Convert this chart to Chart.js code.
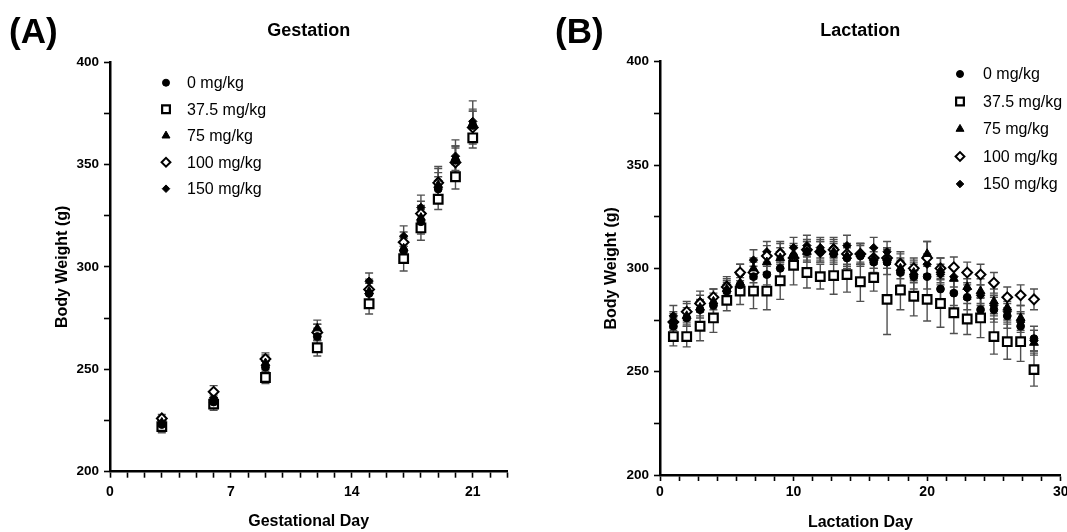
<!DOCTYPE html>
<html>
<head>
  <meta charset="UTF-8">
  <title>Body weight</title>
  <script src="https://cdn.jsdelivr.net/npm/chart.js"></script>
  <style>
    body { margin: 0; background: #fff; overflow: hidden; }
    #wrap { position: relative; width: 1067px; height: 532px; overflow: hidden; font-family: "Liberation Sans", Arial, sans-serif; }
    .panel { position: absolute; top: 0; }
    .tag { position: absolute; top: 13px; font-weight: bold; font-size: 35px; line-height: 1; color: #000; }
  </style>
</head>
<body>
  <div id="wrap">
    <canvas id="chartA" class="panel" width="533" height="532" style="left:0"></canvas>
    <canvas id="chartB" class="panel" width="545" height="532" style="left:533px"></canvas>
    <div class="tag" style="left:9px">(A)</div>
    <div class="tag" style="left:555px">(B)</div>
  </div>
  <script>
    const groupLabels = ['0 mg/kg', '37.5 mg/kg', '75 mg/kg', '100 mg/kg', '150 mg/kg'];

    // gestation (A)
    const gestDays = [3, 6, 9, 12, 15, 17, 18, 19, 20, 21];
    const gest0 = [223, 234, 251, 266, 287, 308, 322, 338, 352, 369];
    const gest37 = [222, 233, 246, 260.5, 282, 304, 319, 333, 344, 363];
    const gest75 = [224, 235, 253, 270, 288, 309, 324, 340, 353, 370];
    const gest100 = [226, 239, 255, 268, 289, 312, 326, 341, 351, 368];
    const gest150 = [225, 236, 254, 268, 293, 315, 329, 342, 354, 371];
    const gestSd0 = [3, 3, 4, 4, 5, 6, 6, 6, 7, 7];
    const gestSd37 = [3, 3, 3, 4, 5, 6, 6, 5, 6, 5];
    const gestSd75 = [3, 3, 3, 4, 4, 5, 6, 6, 6, 7];
    const gestSd100 = [2, 3, 3, 4, 5, 5, 6, 7, 7, 8];
    const gestSd150 = [2, 3, 3, 4, 4, 5, 6, 7, 8, 10];
    const gestTicksX = [0, 7, 14, 21];

    // lactation (B)
    const lactDays = [1, 2, 3, 4, 5, 6, 7, 8, 9, 10, 11, 12, 13, 14, 15, 16, 17, 18, 19, 20, 21, 22, 23, 24, 25, 26, 27, 28];
    const lact0 = [272, 276, 280, 282, 289, 292, 296, 297, 300, 306, 308, 308, 307, 305, 306, 303, 303, 298, 296, 296, 290, 288, 286, 280, 280, 277, 272, 266];
    const lact37 = [267, 267, 272, 276, 284.5, 289, 289, 289, 294, 301.5, 298, 296, 296.5, 297, 293.5, 295.5, 285, 289.5, 286.5, 285, 283, 278.5, 275.5, 276, 267, 264.5, 264.5, 251];
    const lact75 = [275, 277, 281, 284, 290, 293, 300, 303, 305, 307, 308, 309, 308, 306, 307, 305, 305, 300, 298, 307, 299, 295, 291, 289, 284, 281, 276, 264];
    const lact100 = [274, 279, 283, 286, 291, 298, 298, 306, 307, 305, 309, 308, 309, 307, 307, 305, 305, 302, 300, 305, 300, 300.5, 298, 297, 293, 286, 287, 285];
    const lact150 = [277, 279, 284, 286, 292, 297, 304, 308, 308, 310, 311, 310, 310, 311, 307, 310, 308, 303, 299, 302, 297, 296, 290, 287, 282, 279, 274, 265];
    const lactSd0 = [4, 4, 4, 4, 4, 5, 5, 5, 5, 5, 5, 5, 5, 5, 5, 5, 6, 6, 6, 6, 6, 6, 6, 6, 6, 6, 6, 6];
    const lactSd37 = [4.5, 5, 7, 7, 5, 6.5, 8.5, 9, 9, 9.5, 7.5, 6, 9, 8.5, 9.5, 6.5, 17, 9.5, 9.5, 10.5, 11.5, 10, 7.5, 9.5, 8.5, 8.5, 9.5, 8];
    const lactSd75 = [4, 4, 4, 4, 4, 5, 5, 5, 5, 5, 5, 5, 5, 5, 5, 5, 5, 5, 5, 6, 6, 6, 6, 6, 6, 6, 6, 6];
    const lactSd100 = [4, 4, 4, 4, 4, 4, 5, 5, 5, 5, 5, 5, 5, 5, 5, 5, 5, 5, 5, 8, 5, 5, 5, 5, 5, 5, 5, 5];
    const lactSd150 = [5, 5, 5, 4, 4, 5, 5, 5, 5, 5, 5, 5, 5, 5, 5, 5, 5, 5, 5, 5, 5, 5, 5, 5, 5, 5, 5, 5];
    const lactTicksX = [0, 10, 20, 30];

    const yTicks = [200, 250, 300, 350, 400];

    const FONT = '"Liberation Sans", Arial, sans-serif';
    Chart.defaults.font.family = FONT;
    Chart.defaults.color = '#000';

    const markerStyles = [
      { pointStyle: 'circle', pointRadius: 3.9, backgroundColor: '#000', borderColor: '#000', pointBorderWidth: 1 },
      { pointStyle: 'rect', pointRadius: 6.1, backgroundColor: '#fff', borderColor: '#000', pointBorderWidth: 2.2 },
      { pointStyle: 'triangle', pointRadius: 5.1, backgroundColor: '#000', borderColor: '#000', pointBorderWidth: 1 },
      { pointStyle: 'rectRot', pointRadius: 4.9, backgroundColor: '#fff', borderColor: '#000', pointBorderWidth: 2 },
      { pointStyle: 'rectRot', pointRadius: 4.2, backgroundColor: '#000', borderColor: '#000', pointBorderWidth: 1 }
    ];

    function makeSets(days, groups, sds) {
      return groups.map((vals, g) => Object.assign({
        label: groupLabels[g],
        data: vals.map((v, i) => ({ x: days[i], y: v })),
        sd: sds[g],
        showLine: false
      }, markerStyles[g]));
    }

    // mean +/- SD whiskers
    const errorBars = {
      id: 'errorBars',
      beforeDatasetsDraw(chart) {
        const ctx = chart.ctx;
        const yScale = chart.scales.y;
        ctx.save();
        ctx.strokeStyle = '#505050';
        ctx.lineWidth = 1.4;
        chart.data.datasets.forEach((ds, di) => {
          const meta = chart.getDatasetMeta(di);
          meta.data.forEach((pt, i) => {
            const v = ds.data[i].y;
            const s = ds.sd[i];
            const x = pt.x;
            const yt = yScale.getPixelForValue(v + s);
            const yb = yScale.getPixelForValue(v - s);
            ctx.beginPath();
            ctx.moveTo(x, yt); ctx.lineTo(x, yb);
            ctx.moveTo(x - 4, yt); ctx.lineTo(x + 4, yt);
            ctx.moveTo(x - 4, yb); ctx.lineTo(x + 4, yb);
            ctx.stroke();
          });
        });
        ctx.restore();
      }
    };

    // legend inside the plot
    const insideLegend = {
      id: 'insideLegend',
      afterDraw(chart, args, opts) {
        const ctx = chart.ctx;
        ctx.save();
        chart.data.datasets.forEach((ds, i) => {
          const y = opts.y + i * opts.gap;
          ctx.fillStyle = ds.backgroundColor;
          ctx.strokeStyle = ds.borderColor;
          ctx.lineWidth = ds.pointBorderWidth;
          Chart.helpers.drawPoint(ctx, {
            pointStyle: ds.pointStyle, radius: ds.pointRadius * 0.9,
            borderWidth: ds.pointBorderWidth, rotation: 0
          }, opts.x, y);
          ctx.fillStyle = '#000';
          ctx.font = '16px ' + FONT;
          ctx.textBaseline = 'middle';
          ctx.textAlign = 'left';
          ctx.fillText(ds.label, opts.textX, y + 1);
        });
        ctx.restore();
      }
    };

    function makeChart(id, cfg) {
      const ctx = document.getElementById(id).getContext('2d');
      return new Chart(ctx, {
        type: 'scatter',
        data: { datasets: makeSets(cfg.days, cfg.groups, cfg.sds) },
        plugins: [errorBars, insideLegend],
        options: {
          responsive: false,
          animation: false,
          events: [],
          layout: { padding: { left: 0, right: cfg.padRight, top: 0, bottom: 0 } },
          plugins: {
            legend: { display: false },
            tooltip: { enabled: false },
            title: {
              display: true,
              text: cfg.title,
              fullSize: false,
              font: { size: 18, weight: 'bold' },
              color: '#000',
              padding: { top: 20, bottom: cfg.titleBottom }
            },
            insideLegend: cfg.legend
          },
          scales: {
            x: {
              type: 'linear',
              min: cfg.xMin,
              max: cfg.xMax,
              afterFit(scale) { scale.height = cfg.xHeight; },
              border: { display: true, color: '#000', width: 2.5 },
              grid: { drawOnChartArea: false, drawTicks: true, tickLength: 6, tickColor: '#000', tickWidth: 1.6 },
              ticks: {
                stepSize: cfg.xStep,
                autoSkip: false,
                maxRotation: 0,
                padding: cfg.xPad,
                font: { size: 14, weight: 'bold' },
                color: '#000',
                callback(v) {
                  const hit = cfg.xLabels.find(t => Math.abs(t - v) < 1e-6);
                  return hit === undefined ? '' : String(hit);
                }
              },
              title: {
                display: true,
                text: cfg.xTitle,
                font: { size: 16, weight: 'bold' },
                color: '#000',
                padding: { top: 0, bottom: cfg.xTitlePad }
              }
            },
            y: {
              type: 'linear',
              min: 200,
              max: 400,
              afterFit(scale) { scale.width = cfg.yWidth; },
              border: { display: true, color: '#000', width: 2.5 },
              grid: { drawOnChartArea: false, drawTicks: true, tickLength: 6, tickColor: '#000', tickWidth: 1.6 },
              ticks: {
                stepSize: 25,
                padding: 5,
                font: { size: 13.5, weight: 'bold' },
                color: '#000',
                callback(v) { return yTicks.includes(v) ? String(v) : ''; }
              },
              title: {
                display: true,
                text: 'Body Weight (g)',
                font: { size: 16, weight: 'bold' },
                color: '#000',
                padding: { top: cfg.yTitlePad, bottom: 0 }
              }
            }
          }
        }
      });
    }

    makeChart('chartA', {
      days: gestDays,
      groups: [gest0, gest37, gest75, gest100, gest150],
      sds: [gestSd0, gestSd37, gestSd75, gestSd100, gestSd150],
      title: 'Gestation',
      titleBottom: 20.4,
      xTitle: 'Gestational Day',
      xMin: 0, xMax: 23, xStep: 1, xLabels: gestTicksX,
      xHeight: 60.3, xPad: 6, xTitlePad: 1,
      yWidth: 110, yTitlePad: 53,
      padRight: 25.7,
      legend: { x: 166, textX: 187, y: 82.7, gap: 26.5 }
    });

    makeChart('chartB', {
      days: lactDays,
      groups: [lact0, lact37, lact75, lact100, lact150],
      sds: [lactSd0, lactSd37, lactSd75, lactSd100, lactSd150],
      title: 'Lactation',
      titleBottom: 20.1,
      xTitle: 'Lactation Day',
      xMin: 0, xMax: 30, xStep: 10 / 7, xLabels: lactTicksX,
      xHeight: 57, xPad: 3, xTitlePad: 0,
      yWidth: 127, yTitlePad: 69,
      padRight: 17.3,
      legend: { x: 427, textX: 450, y: 74, gap: 27.5 }
    });
  </script>
</body>
</html>
